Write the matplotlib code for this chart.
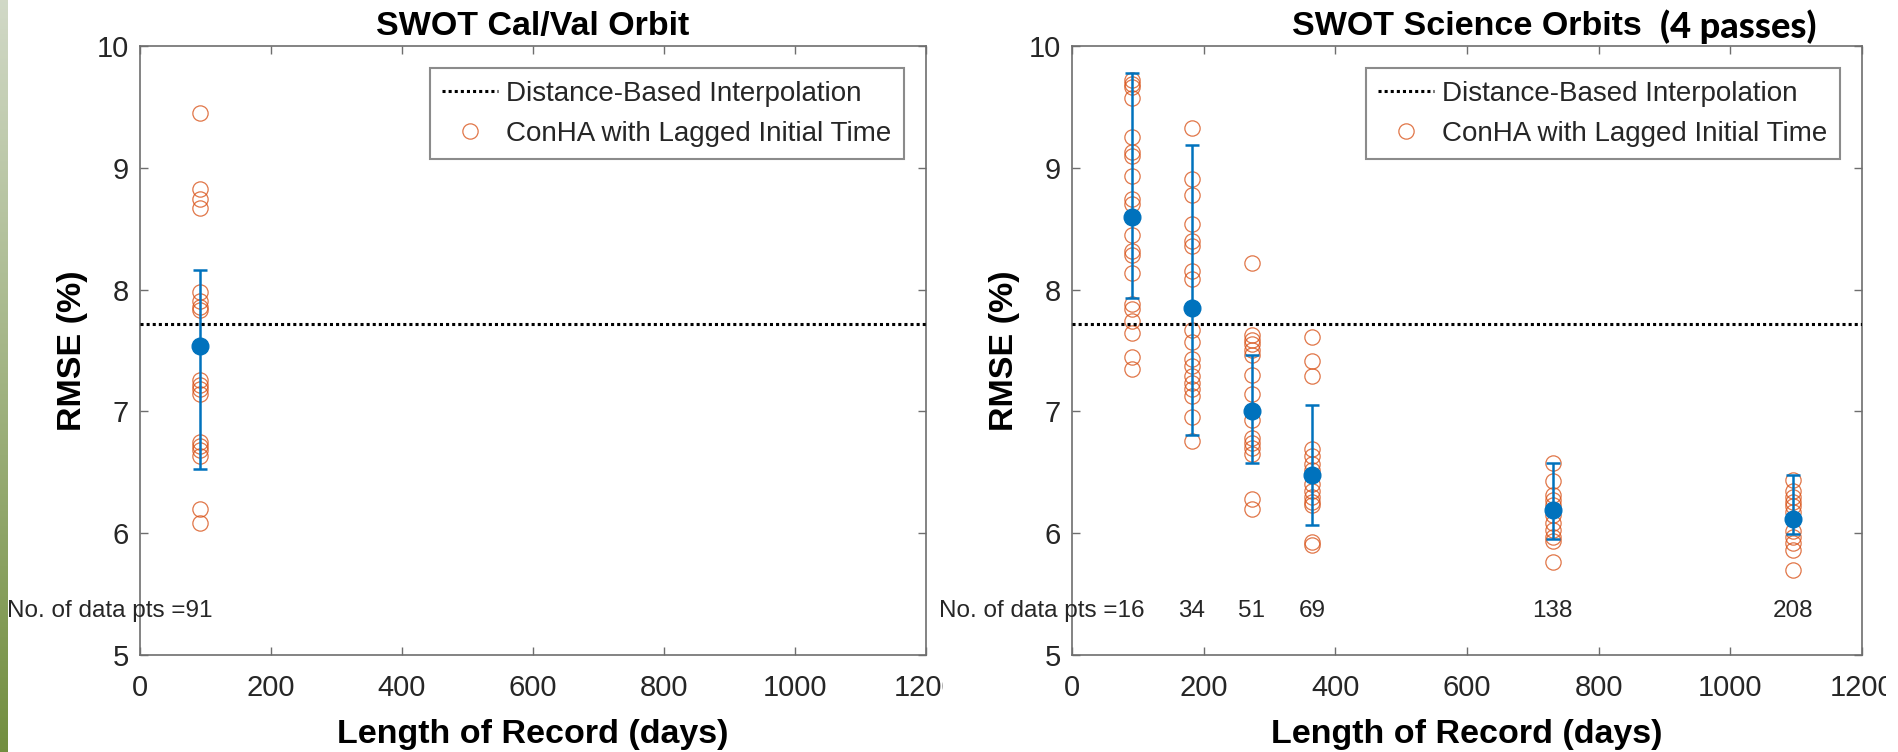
import numpy as np
import matplotlib.pyplot as plt
from matplotlib.lines import Line2D
from matplotlib.transforms import Bbox

plt.rcParams['font.family'] = ['Liberation Sans', 'DejaVu Sans']

# distance-based interpolation reference level (RMSE %)
dbi_rmse = 7.72

# Cal/Val orbit: 91 day record
calval_days = [91]
calval_rmse = [9.45, 8.83, 8.74, 8.67, 7.98, 7.91, 7.86, 7.83, 7.26, 7.22,
               7.18, 7.14, 6.75, 6.72, 6.68, 6.63, 6.20, 6.08]
calval_mean = [7.54]
calval_lo = [6.53]
calval_hi = [8.16]
calval_npts = ['91']

# science orbits: record lengths and per-pass RMSE values
sci_days = [91, 182, 273, 365, 730, 1095]
sci_rmse = [
    [9.72, 9.69, 9.66, 9.57, 9.25, 9.13, 9.10, 8.93, 8.74, 8.70, 8.45, 8.32,
     8.28, 8.14, 7.88, 7.84, 7.74, 7.64, 7.45, 7.35],
    [9.33, 8.91, 8.78, 8.54, 8.40, 8.36, 8.15, 8.09, 7.67, 7.57, 7.43, 7.37,
     7.29, 7.23, 7.18, 7.13, 6.95, 6.76],
    [8.22, 7.63, 7.59, 7.55, 7.50, 7.46, 7.30, 7.14, 6.93, 6.78, 6.74, 6.70,
     6.65, 6.28, 6.20],
    [7.61, 7.41, 7.29, 6.69, 6.63, 6.57, 6.52, 6.40, 6.35, 6.30, 6.26, 6.23,
     5.93, 5.90],
    [6.58, 6.43, 6.31, 6.27, 6.23, 6.15, 6.08, 6.03, 5.97, 5.94, 5.76],
    [6.44, 6.35, 6.30, 6.26, 6.22, 6.17, 6.12, 6.02, 5.97, 5.92, 5.86, 5.70],
]
sci_mean = [8.60, 7.85, 7.00, 6.48, 6.19, 6.12]
sci_lo = [7.93, 6.81, 6.58, 6.07, 5.95, 5.99]
sci_hi = [9.78, 9.19, 7.46, 7.05, 6.58, 6.48]
sci_npts = ['16', '34', '51', '69', '138', '208']

blue = '#0072BD'
orange = '#D95319'
axcol = '#6e6e6e'
txtcol = '#262626'

fig = plt.figure(figsize=(18.98, 7.52), dpi=100)
fig.patch.set_facecolor('white')

# thin green gradient bar down the left edge
strip = fig.add_axes([0, 0, 8 / 1898, 1])
grad = np.linspace(0, 1, 256)[:, None]
top = np.array([0.82, 0.85, 0.78])
bot = np.array([0.45, 0.56, 0.25])
strip.imshow(top + (bot - top) * grad[:, :, None], aspect='auto')
strip.axis('off')


def panel(ax, days, rmse_sets, means, lo, hi, npts, title):
    for d, vals in zip(days, rmse_sets):
        ax.plot([d] * len(vals), vals, 'o', mfc='none', mec=orange,
                ms=11, mew=0.9, alpha=0.8, zorder=2)
    means = np.array(means)
    err = [means - np.array(lo), np.array(hi) - means]
    ax.errorbar(days, means, yerr=err, fmt='o', color=blue, ms=12,
                elinewidth=1.8, capsize=5, capthick=1.8, zorder=3)
    ax.axhline(dbi_rmse, color='black', ls=(0, (1, 1)), lw=2.2, zorder=4)

    ax.set_xlim(0, 1200)
    ax.set_ylim(5, 10)
    ax.set_xticks(range(0, 1201, 200))
    ax.set_yticks(range(5, 11))
    ax.tick_params(direction='in', length=6, width=1, colors=axcol,
                   labelcolor=txtcol, labelsize=21, top=True, right=True)
    ax.tick_params(axis='x', pad=14)
    ax.tick_params(axis='y', pad=8)
    for s in ax.spines.values():
        s.set_color(axcol)
        s.set_linewidth(1.2)
    ax.set_xlabel('Length of Record (days)', fontsize=24.5,
                  fontweight='bold', labelpad=12)
    ax.set_ylabel('RMSE (%)', fontsize=24.5, fontweight='bold', labelpad=6)
    ax.set_title(title, fontsize=24.5, fontweight='bold', pad=8)

    # number of data points under each column
    for i, (d, n) in enumerate(zip(days, npts)):
        if i == 0:
            ax.annotate('No. of data pts =' + n, (d, 5.36),
                        xytext=(13, 0), textcoords='offset pixels',
                        ha='right', va='center', fontsize=17.5,
                        color=txtcol, annotation_clip=False)
        else:
            ax.text(d, 5.36, n, ha='center', va='center', fontsize=17.5,
                    color=txtcol)

    handles = [Line2D([], [], color='black', ls=(0, (1, 1)), lw=2.2),
               Line2D([], [], marker='o', ls='none', mfc='none', mec=orange,
                      ms=11, mew=0.9, alpha=0.8)]
    leg = ax.legend(handles, ['Distance-Based Interpolation',
                              'ConHA with Lagged Initial Time'],
                    loc='upper right', fontsize=20, frameon=True,
                    fancybox=False, edgecolor=axcol, handlelength=2.0,
                    handletextpad=0.3, labelspacing=0.5, borderpad=0.45,
                    borderaxespad=0.8)
    leg.get_frame().set_linewidth(1.5)
    for t in leg.get_texts():
        t.set_color(txtcol)


ax1 = fig.add_axes([140 / 1898, 97 / 752, 786 / 1898, 609 / 752])
panel(ax1, calval_days, [calval_rmse], calval_mean, calval_lo, calval_hi,
      calval_npts, 'SWOT Cal/Val Orbit')

ax2 = fig.add_axes([1072 / 1898, 97 / 752, 790 / 1898, 609 / 752])
panel(ax2, sci_days, sci_rmse, sci_mean, sci_lo, sci_hi, sci_npts,
      'SWOT Science Orbits')
fig.text(1660 / 1898, 1 - 27 / 752, '(4 passes)', fontsize=26,
         fontweight='black', family='Lato', ha='left', va='center',
         color='black')

# tick labels cut where the panels meet and at the right edge
clip1 = Bbox.from_extents(0, 0, 943, 752)
for lab in ax1.get_xticklabels():
    lab.set_clip_box(clip1)
    lab.set_clip_on(True)
clip2 = Bbox.from_extents(943, 0, 1886, 752)
for lab in ax2.get_xticklabels():
    lab.set_clip_box(clip2)
    lab.set_clip_on(True)

fig.savefig('out.png', dpi=100)
